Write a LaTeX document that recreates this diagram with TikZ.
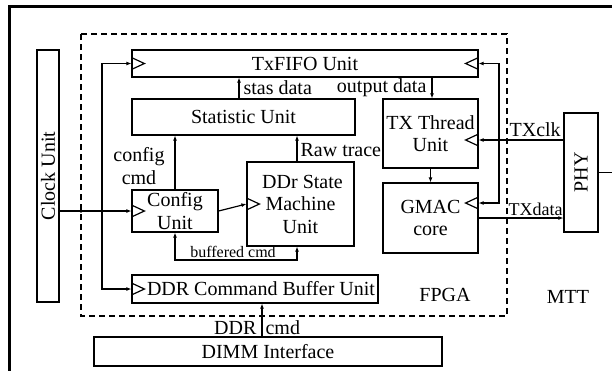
\documentclass[tikz,border=0pt]{standalone}
\usepackage{fontspec}
\setmainfont{Liberation Serif}
\usepackage{tikz}
\usetikzlibrary{arrows.meta}

\begin{document}
\begin{tikzpicture}[x=1pt,y=-1pt,line width=1.2pt,>={Latex[length=5pt,width=4pt]},
  box/.style={draw,rectangle,inner sep=0pt,align=center},
  lbl/.style={inner sep=0pt,align=center}]
\fontsize{20}{22.5}\selectfont
\clip (0,0) rectangle (612,370);
\draw[line width=3pt] (9,375) -- (9,6) -- (620,6);
\draw[dash pattern=on 6pt off 4pt,line width=1.4pt] (81,34) rectangle (507,316);
% units
\node[box,minimum width=22,minimum height=252] (clk) at (48,176) {\rotatebox{90}{Clock Unit}};
\node[box,minimum width=346,minimum height=27] (fifo) at (305,63.5) {TxFIFO Unit};
\node[box,minimum width=223,minimum height=36] (stat) at (243.5,117) {Statistic Unit};
\node[box,minimum width=95,minimum height=69] (tx) at (430.5,133.5) {TX Thread\\Unit};
\node[box,minimum width=95,minimum height=70] (gmac) at (430.5,218) {GMAC\\core};
\node[box,minimum width=86,minimum height=42] (cfg) at (175,211) {Config\\Unit};
\node[box,minimum width=107,minimum height=84] (ddr) at (300.5,204) {\hspace*{4pt}DDr State\\Machine\\Unit};
\node[box,minimum width=246,minimum height=28] (buf) at (255,289) {\hspace*{12pt}DDR Command Buffer Unit};
\node[box,minimum width=348,minimum height=29] (dimm) at (268,351.5) {DIMM Interface};
\node[box,minimum width=34,minimum height=119] (phy) at (581,172.5) {\rotatebox{90}{PHY}};
% clock inputs
\draw (fifo.west) ++(0,-6) -- ++(13,6) -- ++(-13,6);
\draw (cfg.west) ++(0,-6) -- ++(13,6) -- ++(-13,6);
\draw (ddr.west) ++(0,-6) -- ++(13,6) -- ++(-13,6);
\draw (buf.west) ++(0,-6) -- ++(13,6) -- ++(-13,6);
\draw (fifo.east) ++(0,-6) -- ++(-13,6) -- ++(13,6);
\draw ([yshift=-6.5pt]tx.east) ++(0,-6) -- ++(-13,6) -- ++(13,6);
\draw ([yshift=15pt]gmac.east) ++(0,-6) -- ++(-13,6) -- ++(13,6);
% connectors
\coordinate (jl) at (102,211);
\coordinate (jr) at (499,140);
\coordinate (bus) at (240,260);
\draw[->] (clk.east |- cfg.west) -- (cfg.west);
\fill (81,211) circle(1.8) (jl) circle(1.8);
\draw[->] (jl) |- (fifo.west);
\draw[->] (jl) |- (buf.west);
\draw[->] (cfg.east) -- (ddr.west);
\draw[->] (cfg.north) -- (cfg.north |- stat.south);
\draw[->] ([xshift=-3.5pt]ddr.north) -- ([xshift=-3.5pt]ddr.north |- stat.south);
\draw[->] ([xshift=-4.5pt]stat.north) -- ([xshift=-4.5pt]stat.north |- fifo.south);
\draw[->] ([xshift=1.5pt]fifo.south -| tx.north) -- ([xshift=1.5pt]tx.north);
\draw[->] (tx.south) -- (gmac.north);
\draw[->] ([yshift=-6.5pt]tx.east -| phy.west) -- ([yshift=-6.5pt]tx.east);
\draw[->] (jr) |- (fifo.east);
\draw[->] (jr) |- ([yshift=15pt]gmac.east);
\draw[->] (gmac.east) -- (gmac.east -| phy.west);
\draw (phy.east) -- ++(30,0);
\draw (bus -| buf.north) -- (bus);
\draw[->] (bus) -| (cfg.south);
\draw[->] (bus) -| ([xshift=-3.5pt]ddr.south);
\draw[->] ([xshift=-6pt]dimm.north) -- ([xshift=-6pt]dimm.north |- buf.south);
% labels
\node[lbl] (lcfg) at (139,166) {config\\cmd};
\node[lbl,anchor=west] (lraw) at (300,150) {Raw trace};
\node[lbl,anchor=west] (lstas) at (243,88) {stas data};
\node[lbl,anchor=east] (lout) at (427,88) {output data};
\node[lbl,anchor=south west] (lclk) at (509,137) {TXclk};
\node[lbl,anchor=south west,font=\fontsize{18}{20}\selectfont] (ldata) at (508,216) {TXdata};
\node[lbl,anchor=south,font=\fontsize{16}{18}\selectfont] (lbuf) at (233,258) {buffered cmd};
\node[lbl,anchor=east] (lddr) at (257,328) {DDR};
\node[lbl,anchor=west] (lcmd) at (265,328) {cmd};
\node[lbl] (lfpga) at (445,295) {FPGA};
\node[lbl] (lmtt) at (568,297) {MTT};
\end{tikzpicture}
\end{document}
